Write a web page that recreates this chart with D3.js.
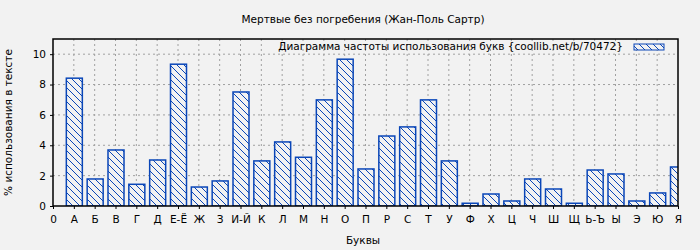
<!DOCTYPE html>
<html>
<head>
<meta charset="utf-8">
<script src="https://cdn.jsdelivr.net/npm/d3@7"></script>
<style>
  body { margin: 0; background: #f2f2f2; }
  text { font-family: "DejaVu Sans", sans-serif; font-size: 10.5px; fill: #000; }
</style>
</head>
<body>
<script>
// tick labels on the x axis (position 0 is just the number)
var letters = ["0", "А", "Б", "В", "Г", "Д", "Е-Ё", "Ж", "З", "И-Й", "К", "Л", "М", "Н",
  "О", "П", "Р", "С", "Т", "У", "Ф", "Х", "Ц", "Ч", "Ш", "Щ", "Ь-Ъ", "Ы", "Э", "Ю", "Я"];

// percent of use per letter, А..Я
var percents = [8.42, 1.78, 3.69, 1.43, 3.03, 9.34, 1.25, 1.65, 7.51, 2.97, 4.22, 3.21, 6.99,
  9.67, 2.44, 4.61, 5.21, 6.99, 2.97, 0.18, 0.79, 0.33, 1.78, 1.12, 0.18, 2.37, 2.11, 0.33, 0.86, 2.57];

var yTicks = [0, 2, 4, 6, 8, 10];

var W = 700, H = 250;
var margin = {left: 53, right: 22, top: 39, bottom: 44};
var width = W - margin.left - margin.right,
    height = H - margin.top - margin.bottom;

var blue = "#0a46b8";

var svg = d3.select("body").append("svg")
  .attr("width", W)
  .attr("height", H);

// hatch pattern
var p = 7;
var pat = svg.append("defs").append("pattern")
  .attr("id", "hatch")
  .attr("patternUnits", "userSpaceOnUse")
  .attr("width", p)
  .attr("height", p);
pat.append("rect").attr("width", p).attr("height", p).attr("fill", "#f2f2f2");
pat.append("path")
  .attr("d", "M-1,-1 L" + (p + 1) + "," + (p + 1) + " M-" + (p / 2 + 1) + "," + (p / 2 - 1) + " L" + (p / 2 + 1) + "," + (1.5 * p + 1) + " M" + (p / 2 - 1) + ",-" + (p / 2 + 1) + " L" + (1.5 * p + 1) + "," + (p / 2 + 1))
  .attr("stroke", blue)
  .attr("stroke-width", 1);

svg.append("clipPath").attr("id", "clip")
  .append("rect").attr("width", width).attr("height", height);

var g = svg.append("g")
  .attr("transform", "translate(" + margin.left + "," + margin.top + ")");

var x = d3.scaleLinear().domain([0, 30]).range([0, width]);
var y = d3.scaleLinear().domain([0, 11]).range([height, 0]);

// grid
g.append("g").selectAll("line")
  .data(d3.range(1, 30))
  .enter().append("line")
  .attr("x1", d => x(d)).attr("x2", d => x(d))
  .attr("y1", 0).attr("y2", height)
  .attr("stroke", "#a0a0a0")
  .attr("stroke-dasharray", "2,3");

g.append("g").selectAll("line")
  .data(yTicks.slice(1))
  .enter().append("line")
  .attr("x1", 0).attr("x2", width)
  .attr("y1", d => y(d)).attr("y2", d => y(d))
  .attr("stroke", "#a0a0a0")
  .attr("stroke-dasharray", "2,3");

// bars
var bw = 16;
g.append("g").attr("clip-path", "url(#clip)")
  .selectAll("rect")
  .data(percents)
  .enter().append("rect")
  .attr("x", (d, i) => x(i + 1) - bw / 2 + 0.5)
  .attr("y", d => y(d))
  .attr("width", bw)
  .attr("height", d => height - y(d))
  .attr("fill", "url(#hatch)")
  .attr("stroke", blue)
  .attr("stroke-width", 1.5);

// frame
g.append("rect")
  .attr("width", width).attr("height", height)
  .attr("fill", "none").attr("stroke", "#000").attr("stroke-width", 1.5);

// axes
var xAxis = d3.axisBottom(x)
  .tickValues(d3.range(0, 31))
  .tickFormat(d => letters[d])
  .tickSize(3)
  .tickPadding(7);

g.append("g")
  .attr("transform", "translate(0," + height + ")")
  .call(xAxis)
  .call(a => a.select(".domain").remove())
  .selectAll("text").style("font-family", "DejaVu Sans").style("font-size", "10.5px");

var yAxis = d3.axisLeft(y)
  .tickValues(yTicks)
  .tickSize(3)
  .tickPadding(4);

g.append("g")
  .call(yAxis)
  .call(a => a.select(".domain").remove())
  .selectAll("text").style("font-family", "DejaVu Sans").style("font-size", "10.5px");

// legend
g.append("text")
  .attr("x", 570)
  .attr("y", 11)
  .attr("text-anchor", "end")
  .text("Диаграмма частоты использования букв {coollib.net/b/70472}");

g.append("rect")
  .attr("x", 581).attr("y", 5)
  .attr("width", 30).attr("height", 6)
  .attr("fill", "url(#hatch)")
  .attr("stroke", blue)
  .attr("stroke-width", 1);

// titles
svg.append("text")
  .attr("x", 363).attr("y", 23)
  .attr("text-anchor", "middle")
  .text("Мертвые без погребения (Жан-Поль Сартр)");

svg.append("text")
  .attr("x", 363).attr("y", 244)
  .attr("text-anchor", "middle")
  .text("Буквы");

svg.append("text")
  .attr("transform", "translate(12," + (margin.top + height / 2) + ") rotate(-90)")
  .attr("text-anchor", "middle")
  .text("% использования в тексте");
</script>
</body>
</html>
